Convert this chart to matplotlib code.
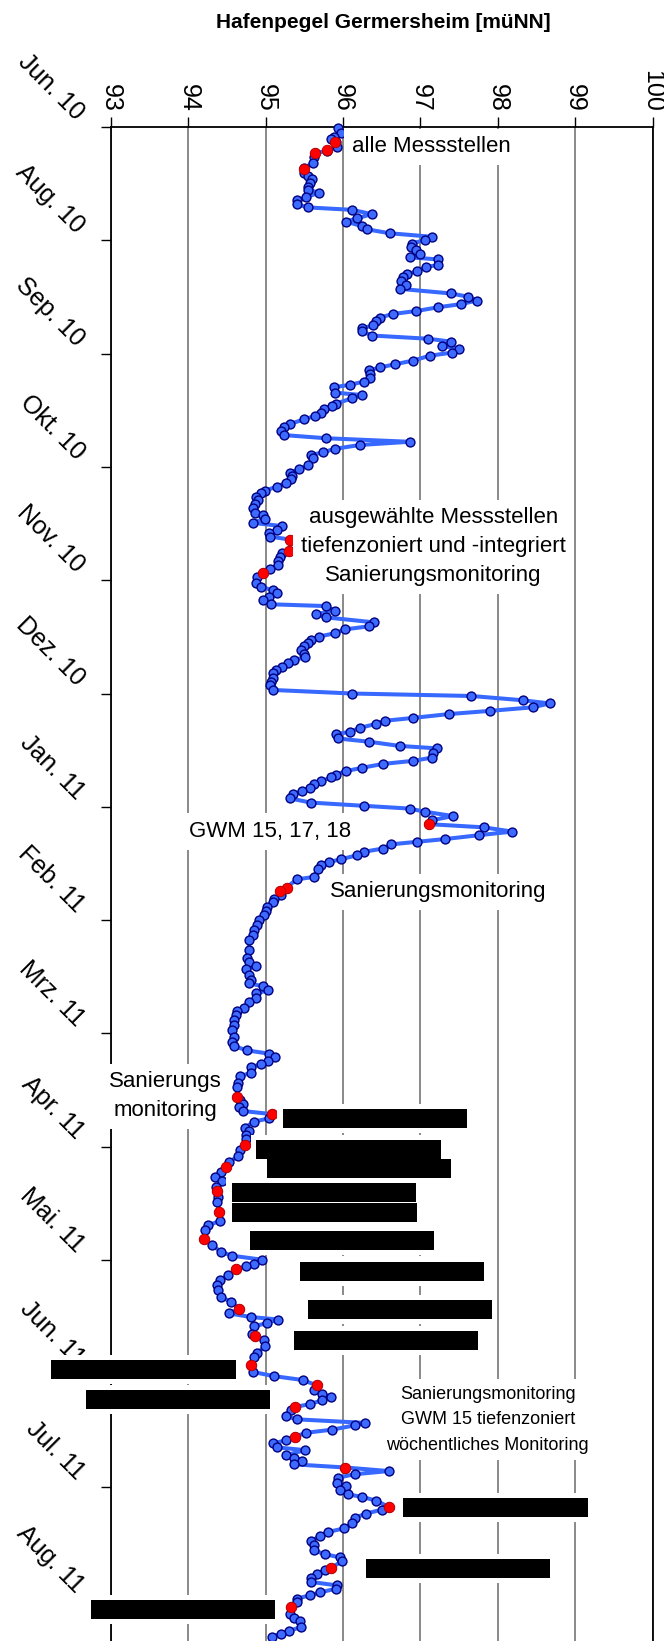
import datetime as dt
import numpy as np
import matplotlib
matplotlib.use('Agg')
import matplotlib.pyplot as plt
from matplotlib.patches import Rectangle

plt.rcParams['font.family'] = ['Liberation Sans', 'DejaVu Sans']

# Hafenpegel Germersheim, Tage seit 30.06.2010 und Wasserstand in müNN
tage = [
    0.4, 1.6, 2.7, 3.5, 4.1, 5.6, 6.7, 7.4, 8.6, 10.1, 11.7, 12.9, 13.8, 14.7, 15.7, 17.0,
    17.8, 18.5, 19.9, 20.6, 21.8, 22.7, 23.4, 24.6, 25.8, 26.7, 28.0, 28.9, 30.0, 31.0, 31.9,
    32.9, 33.8, 34.6, 35.9, 36.8, 37.4, 39.0, 39.5, 40.8, 41.5, 42.3, 43.4, 44.5, 45.7, 47.0,
    47.9, 49.0, 50.0, 50.9, 52.0, 52.8, 53.8, 54.7, 56.0, 56.9, 57.7, 58.9, 59.8, 60.6, 61.9,
    62.6, 63.7, 64.6, 66.0, 67.0, 67.9, 68.7, 69.8, 70.8, 71.9, 72.8, 73.5, 75.0, 75.7, 76.6,
    78.1, 78.8, 79.7, 80.7, 81.6, 82.6, 83.9, 84.8, 85.8, 87.0, 87.9, 88.9, 89.8, 90.9, 91.9,
    92.6, 93.6, 95.5, 96.7, 97.7, 98.6, 99.5, 100.5, 101.6, 102.7, 103.5, 104.6, 105.4, 106.5,
    107.7, 109.0, 109.6, 110.6, 111.8, 112.7, 113.7, 114.8, 115.7, 116.5, 117.6, 118.4, 119.7,
    120.4, 121.4, 122.5, 123.7, 124.7, 125.9, 127.0, 128.7, 129.9, 130.8, 131.7, 132.7, 133.6,
    134.8, 135.3, 136.6, 137.6, 138.5, 139.9, 141.0, 141.9, 143.0, 143.9, 144.9, 145.7, 146.6,
    147.7, 148.7, 149.8, 150.5, 151.5, 152.4, 153.4, 154.3, 155.5, 156.7, 157.6, 159.0, 160.0,
    160.7, 161.9, 162.8, 163.9, 164.9, 165.8, 166.9, 167.7, 168.6, 169.7, 170.8, 171.5, 172.7,
    173.6, 174.8, 175.5, 176.7, 178.1, 179.0, 179.9, 181.0, 181.9, 182.9, 183.7, 184.8, 185.6,
    186.6, 187.6, 188.5, 189.6, 190.8, 191.7, 192.5, 193.4, 194.6, 195.8, 196.9, 197.8, 199.0,
    200.0, 201.1, 201.9, 202.6, 203.8, 204.7, 205.7, 206.8, 207.6, 208.5, 209.6, 211.8, 212.5,
    214.8, 215.7, 217.0, 217.9, 219.0, 220.2, 221.4, 222.6, 224.0, 225.4, 226.8, 228.2, 229.5,
    232.5, 234.8, 235.8, 236.9, 237.9, 239.5, 240.9, 241.9, 242.7, 243.8, 244.7, 245.9, 247.1,
    248.7, 249.6, 250.9, 252.3, 253.7, 255.1, 257.0, 258.4, 259.6, 260.8, 261.7, 262.8, 263.8,
    264.7, 265.5, 267.1, 268.1, 270.0, 271.1, 273.9, 274.8, 275.8, 276.7, 277.9, 278.8, 280.0,
    280.9, 282.6, 283.5, 284.7, 285.7, 287.6, 289.0, 290.7, 292.3, 293.7, 295.1, 296.5, 297.7,
    299.3, 300.5, 302.2, 303.6, 306.4, 308.9, 310.2, 311.6, 314.0, 315.8, 317.7, 318.8, 319.9,
    321.0, 321.8, 322.6, 324.3, 325.7, 327.1, 328.5, 330.4, 331.8, 333.7, 335.1, 336.1, 336.8,
    337.8, 338.7, 340.8, 341.5, 342.6, 344.3, 346.4, 347.5, 349.7, 351.6, 352.8, 353.9, 355.4,
    356.8, 357.7, 358.7, 359.6, 360.7, 361.5, 362.4, 364.1, 365.0, 366.0, 366.7, 367.9, 368.8,
    369.9, 370.9, 371.8, 372.9, 373.7, 375.1, 375.8, 376.7, 377.7, 378.6, 379.6, 380.5, 381.5,
    383.0, 383.9, 385.0, 386.2, 386.9, 388.0, 389.7, 390.5, 391.6, 392.8, 394.4, 395.8, 396.8,
    397.9, 399.4, 400.4, 402.0, 403.1, 404.0, 405.0, 406.9, 407.6, 408.6, 409.7, 410.9, 411.9,
    412.8, 413.9, 414.7, 415.6, 416.6, 418.0, 419.9, 421.0, 421.9, 423.6, 424.8, 425.5, 426.4,
]
pegel = [
    95.94, 95.97, 95.88, 95.84, 95.91, 95.92, 95.79, 95.64, 95.62, 95.61, 95.49, 95.50, 95.54,
    95.60, 95.57, 95.54, 95.55, 95.69, 95.52, 95.41, 95.41, 95.54, 96.12, 96.37, 96.18, 96.04,
    96.24, 96.31, 96.60, 97.15, 97.06, 96.89, 96.88, 96.94, 97.00, 96.86, 97.23, 97.23, 97.07,
    96.95, 96.83, 96.77, 96.75, 96.81, 96.73, 97.39, 97.61, 97.73, 97.53, 97.23, 96.94, 96.64,
    96.48, 96.42, 96.39, 96.24, 96.24, 96.38, 97.10, 97.39, 97.28, 97.50, 97.41, 97.12, 96.90,
    96.67, 96.48, 96.34, 96.35, 96.35, 96.27, 96.09, 95.88, 95.89, 96.24, 96.12, 95.91, 95.86,
    95.75, 95.71, 95.64, 95.49, 95.31, 95.23, 95.20, 95.23, 95.78, 96.86, 96.22, 95.89, 95.74,
    95.59, 95.61, 95.55, 95.43, 95.31, 95.34, 95.33, 95.26, 95.14, 94.99, 94.94, 94.88, 94.90,
    94.86, 94.83, 94.86, 94.96, 94.99, 94.83, 95.21, 95.15, 95.04, 95.06, 95.31, 95.52, 95.47,
    95.30, 95.21, 95.19, 95.16, 95.16, 95.05, 94.97, 94.89, 94.87, 94.94, 95.09, 95.14, 95.04,
    94.96, 95.07, 95.78, 95.89, 95.65, 95.78, 96.40, 96.34, 96.02, 95.89, 95.69, 95.58, 95.54,
    95.49, 95.45, 95.50, 95.51, 95.36, 95.29, 95.21, 95.13, 95.10, 95.09, 95.07, 95.06, 95.10,
    96.12, 97.66, 98.32, 98.67, 98.45, 97.90, 97.37, 96.90, 96.54, 96.42, 96.22, 96.09, 95.91,
    95.93, 96.33, 96.73, 97.22, 97.16, 97.15, 96.91, 96.51, 96.24, 96.04, 95.91, 95.84, 95.72,
    95.62, 95.57, 95.47, 95.35, 95.31, 95.58, 96.27, 96.86, 97.06, 97.42, 97.15, 97.11, 97.82,
    98.19, 97.76, 97.32, 96.95, 96.62, 96.51, 96.27, 96.18, 95.97, 95.82, 95.71, 95.68, 95.62,
    95.40, 95.27, 95.18, 95.20, 95.11, 95.09, 95.02, 95.00, 94.98, 94.91, 94.89, 94.85, 94.83,
    94.78, 94.79, 94.76, 94.79, 94.88, 94.74, 94.79, 94.81, 94.79, 94.97, 95.03, 94.88, 94.87,
    94.79, 94.72, 94.63, 94.61, 94.59, 94.59, 94.57, 94.59, 94.57, 94.59, 94.76, 95.04, 95.12,
    95.03, 94.94, 94.81, 94.81, 94.67, 94.64, 94.63, 94.63, 94.67, 94.70, 94.65, 94.70, 95.08,
    95.04, 94.85, 94.73, 94.78, 94.75, 94.74, 94.73, 94.67, 94.64, 94.53, 94.48, 94.42, 94.34,
    94.43, 94.36, 94.37, 94.38, 94.37, 94.40, 94.41, 94.26, 94.22, 94.20, 94.31, 94.42, 94.57,
    94.95, 94.85, 94.74, 94.62, 94.51, 94.41, 94.37, 94.38, 94.42, 94.55, 94.66, 94.53, 94.81,
    95.16, 95.02, 94.85, 94.82, 94.86, 94.98, 94.99, 94.89, 94.85, 94.81, 94.83, 95.11, 95.48,
    95.66, 95.63, 95.73, 95.84, 95.73, 95.57, 95.38, 95.33, 95.26, 95.41, 96.28, 96.15, 95.86,
    95.52, 95.38, 95.26, 95.10, 95.14, 95.51, 95.26, 95.36, 95.47, 95.36, 96.03, 96.59, 96.15,
    95.93, 95.92, 96.04, 95.96, 96.06, 96.25, 96.43, 96.59, 96.50, 96.30, 96.15, 96.12, 96.01,
    95.81, 95.70, 95.59, 95.63, 95.62, 95.77, 95.96, 95.99, 95.85, 95.77, 95.66, 95.59, 95.58,
    95.92, 95.91, 95.70, 95.57, 95.41, 95.40, 95.33, 95.31, 95.37, 95.44, 95.46, 95.30, 95.20,
    95.08,
]

# Probenahmetermine
probe_tage = [4.3, 6.5, 7.4, 11.9, 116.5, 117.6, 118.4, 119.7, 125.9, 196.9, 214.8, 215.7,
              273.9, 278.8, 287.6, 293.7, 300.5, 306.4, 314.0, 322.6, 333.7, 341.5, 349.7,
              355.4, 361.5, 369.9, 378.6, 389.7, 406.9, 418.0]
probe_pegel = [95.90, 95.79, 95.64, 95.49, 95.31, 95.52, 95.47, 95.30, 94.97, 97.11, 95.27,
               95.18, 94.63, 95.08, 94.73, 94.48, 94.37, 94.40, 94.20, 94.62, 94.66, 94.86,
               94.81, 95.66, 95.38, 95.38, 96.03, 96.59, 95.85, 95.33]

x_ticks = list(range(93, 101))
start = dt.date(2010, 6, 30)
monate = ['Jan.', 'Feb.', 'Mrz.', 'Apr.', 'Mai.', 'Jun.', 'Jul.', 'Aug.',
          'Sep.', 'Okt.', 'Nov.', 'Dez.']
tick_tage = np.arange(0, 417, 32)
tick_labels = []
for t in tick_tage:
    d = start + dt.timedelta(days=int(t))
    tick_labels.append('%s %02d' % (monate[d.month - 1], d.year % 100))

# Beschriftungen: Text, Pegel, Tag, Schriftgroesse, Zeilenabstand
notizen = [
    ('alle Messstellen', 97.14, 5.6, 16, 1.2),
    ('ausgewählte Messstellen\ntiefenzoniert und -integriert\nSanierungsmonitoring', 97.17, 118.6, 16, 1.5),
    ('GWM 15, 17, 18', 95.06, 199.0, 16, 1.2),
    ('Sanierungsmonitoring', 97.23, 216.0, 16, 1.2),
    ('Sanierungs\nmonitoring', 93.70, 273.8, 16, 1.5),
    ('Sanierungsmonitoring\nGWM 15 tiefenzoniert\nwöchentliches Monitoring', 97.87, 365.1, 13, 1.65),
]

# geschwaerzte Textfelder (linke Kante in müNN, Oberkante in Tagen)
schwarz = [(95.22, 277.3), (94.88, 286.1), (95.02, 291.4), (94.56, 298.2), (94.57, 303.9),
           (94.80, 311.8), (95.44, 320.5), (95.54, 331.3), (95.37, 340.0), (92.23, 348.2),
           (92.68, 356.7), (96.78, 387.2), (96.30, 404.4), (92.74, 416.0)]
box_w, box_h = 2.38, 5.4

fig = plt.figure(figsize=(6.64, 16.41), dpi=100)
ax = fig.add_axes([0.1672, 0.0, 0.8155, 0.9226])

ax.set_xlim(93, 100)
ax.set_ylim(427.6, 0)

ax.xaxis.tick_top()
ax.set_xticks(x_ticks)
ax.set_xticklabels([str(v) for v in x_ticks], rotation=-90, va='bottom', ha='center')
ax.tick_params(axis='x', direction='out', length=7, width=1, pad=4, labelsize=18, colors='black')
ax.set_yticks(tick_tage)
ax.set_yticklabels([])
ax.tick_params(axis='y', direction='out', length=7, width=1)
ax.grid(axis='x', color='#808080', lw=1.3)
ax.grid(axis='y', visible=False)

for side in ['top', 'left', 'right']:
    ax.spines[side].set_color('black')
    ax.spines[side].set_linewidth(1.3)
ax.spines['bottom'].set_visible(False)

for t, lab in zip(tick_tage, tick_labels):
    ax.annotate(lab, xy=(0, t), xycoords=('axes fraction', 'data'),
                xytext=(-22, 8), textcoords='offset points',
                rotation=-45, rotation_mode='anchor', ha='right', va='center',
                fontsize=18, annotation_clip=False, zorder=1)

ax.plot(pegel, tage, '-', color='#3768ff', lw=2.9, zorder=3, clip_on=False)
ax.plot(pegel, tage, 'o', ls='none', ms=6.4, mfc='#3d6bff', mec='#000080', mew=1.0,
        zorder=4, clip_on=False)
ax.plot(probe_pegel, probe_tage, 'o', ls='none', ms=7.6, mfc='red', mec='#b00000', mew=0.6,
        zorder=5, clip_on=False)

for s, x, y, fs, ls in notizen:
    ax.text(x, y, s, ha='center', va='center', fontsize=fs, linespacing=ls, zorder=6,
            bbox=dict(boxstyle='square,pad=0.35', fc='white', ec='none'))

pad_x, pad_y = 0.07, 1.5
for x0, y0 in schwarz:
    ax.add_patch(Rectangle((x0 - pad_x, y0 - pad_y), box_w + 2 * pad_x, box_h + 2 * pad_y,
                           fc='white', ec='none', zorder=6.5, clip_on=False))
    ax.add_patch(Rectangle((x0, y0), box_w, box_h, fc='black', ec='none', zorder=7,
                           clip_on=False))

fig.text(0.577, 0.986, 'Hafenpegel Germersheim [müNN]', ha='center', va='center',
         fontsize=15, fontweight='bold')

fig.savefig('out.png', dpi=100)
